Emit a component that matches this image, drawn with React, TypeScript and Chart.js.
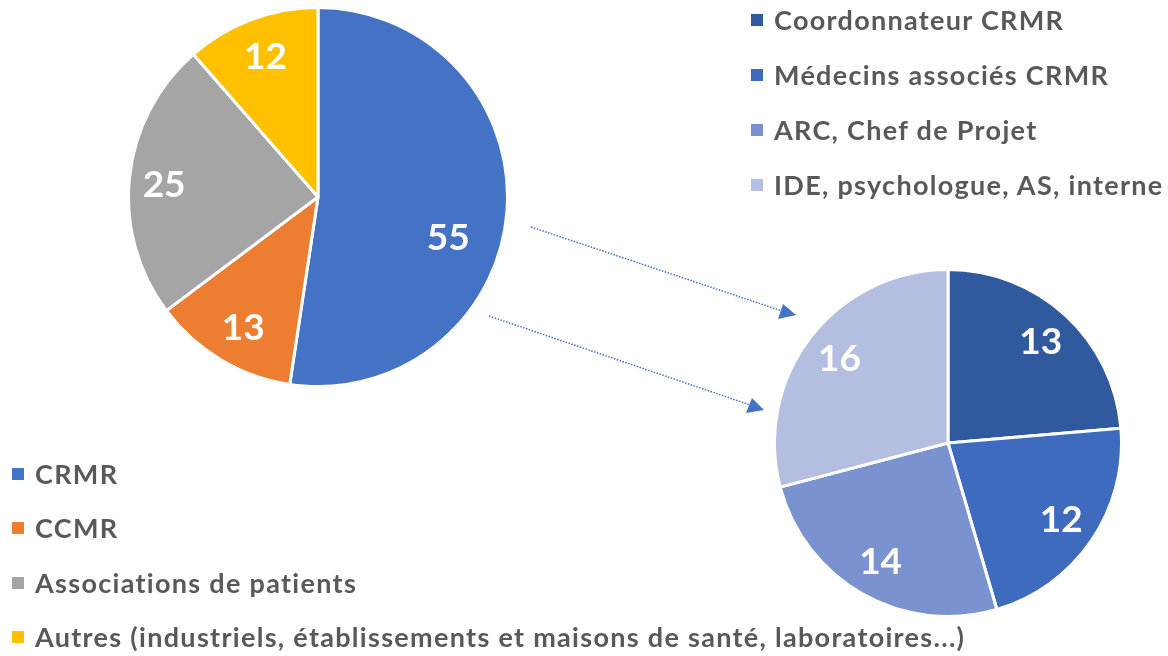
import React, { useEffect, useRef } from "react";
import { Chart, registerables } from "chart.js";

Chart.register(...registerables);

const mainLabels = [
  "CRMR",
  "CCMR",
  "Associations de patients",
  "Autres (industriels, établissements et maisons de santé, laboratoires...)",
];
const mainValues = [55, 13, 25, 12];
const mainColors = ["#4472C4", "#ED7D31", "#A5A5A5", "#FFC000"];

const subLabels = [
  "Coordonnateur CRMR",
  "Médecins associés CRMR",
  "ARC, Chef de Projet",
  "IDE, psychologue, AS, interne",
];
const subValues = [13, 12, 14, 16];
const subColors = ["#31599E", "#3E6BBD", "#7A93D0", "#B3BEE0"];

const FONT = "Lato, 'Open Sans', sans-serif";

const labelPlugin = {
  id: "sliceLabels",
  afterDatasetsDraw(chart: any, _args: any, opts: any) {
    const ctx = chart.ctx;
    const meta = chart.getDatasetMeta(0);
    const data = chart.data.datasets[0].data;
    const offsets = (opts && opts.offsets) || {};
    ctx.save();
    ctx.fillStyle = "#FFFFFF";
    ctx.font = `bold 37px ${FONT}`;
    ctx.textAlign = "center";
    ctx.textBaseline = "middle";
    meta.data.forEach((arc: any, i: number) => {
      const p = arc.getProps(["x", "y", "startAngle", "endAngle", "outerRadius"], true);
      const mid = (p.startAngle + p.endAngle) / 2;
      const r = p.outerRadius * 0.79;
      const off = offsets[i] || [0, 0];
      ctx.fillText(
        String(data[i]),
        p.x + Math.cos(mid) * r + off[0],
        p.y + Math.sin(mid) * r + off[1]
      );
    });
    ctx.restore();
  },
};

function PieChart({ values, colors, labels, size, offsets }: any) {
  const ref = useRef<HTMLCanvasElement>(null);
  useEffect(() => {
    if (!ref.current) return;
    const chart = new Chart(ref.current, {
      type: "pie",
      data: {
        labels,
        datasets: [
          {
            data: values,
            backgroundColor: colors,
            borderColor: "#FFFFFF",
            borderWidth: 3,
          },
        ],
      },
      options: {
        animation: false,
        responsive: false,
        layout: { padding: 0 },
        plugins: {
          legend: { display: false },
          tooltip: { enabled: false },
          sliceLabels: { offsets: offsets || {} },
        } as any,
      },
      plugins: [labelPlugin],
    });
    return () => chart.destroy();
  }, []);
  return <canvas ref={ref} width={size} height={size} style={{ width: size, height: size }} />;
}

function Legend({ labels, colors, left, top, gap }: any) {
  return (
    <div style={{ position: "absolute", left, top }}>
      {labels.map((l: string, i: number) => (
        <div
          key={l}
          style={{
            position: "absolute",
            left: 0,
            top: i * gap,
            display: "flex",
            alignItems: "center",
            whiteSpace: "nowrap",
            height: 34,
          }}
        >
          <div style={{ width: 12, height: 12, background: colors[i], marginRight: 11 }} />
          <span
            style={{
              fontFamily: FONT,
              fontWeight: 700,
              fontSize: 27,
              letterSpacing: "1.3px",
              color: "#595959",
              lineHeight: "34px",
            }}
          >
            {l}
          </span>
        </div>
      ))}
    </div>
  );
}

export default function App() {
  return (
    <div
      style={{
        position: "absolute",
        left: 0,
        top: 0,
        width: 1168,
        height: 656,
        background: "#FFFFFF",
        overflow: "hidden",
      }}
    >
      <div style={{ position: "absolute", left: 127, top: 6 }}>
        <PieChart
          values={mainValues}
          colors={mainColors}
          labels={mainLabels}
          size={382}
          offsets={{ 0: [-19, 30], 2: [-5, 4], 1: [2, 3] }}
        />
      </div>
      <div style={{ position: "absolute", left: 773, top: 268 }}>
        <PieChart values={subValues} colors={subColors} labels={subLabels} size={350} />
      </div>
      <svg
        width={1168}
        height={656}
        style={{ position: "absolute", left: 0, top: 0, pointerEvents: "none" }}
      >
        <line x1={531} y1={227} x2={794} y2={315} stroke="#4472C4" strokeWidth={1.5} strokeDasharray="1.5 1.5" />
        <line x1={489} y1={316} x2={762} y2={409} stroke="#4472C4" strokeWidth={1.5} strokeDasharray="1.5 1.5" />
        <path d="M796,315 L778,319 L783,304 Z" fill="#4472C4" />
        <path d="M764,410 L746,413 L752,398 Z" fill="#4472C4" />
      </svg>
      <Legend labels={subLabels} colors={subColors} left={751} top={3} gap={55} />
      <Legend labels={mainLabels} colors={mainColors} left={12} top={457} gap={54.3} />
    </div>
  );
}
